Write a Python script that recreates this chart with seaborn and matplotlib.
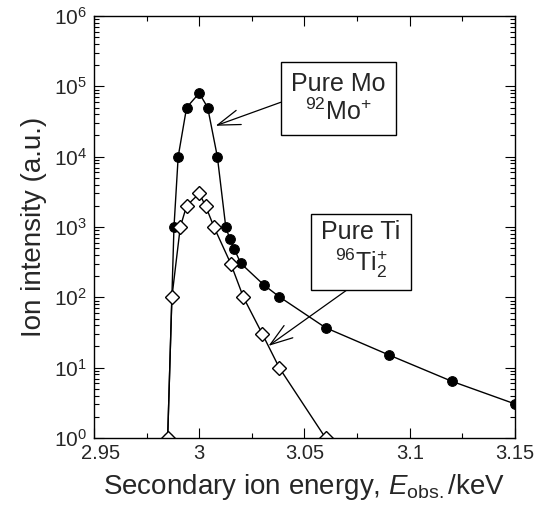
import numpy as np
import pandas as pd
import matplotlib
matplotlib.use("Agg")
import matplotlib.pyplot as plt
import matplotlib.transforms as mtransforms
import seaborn as sns
from matplotlib.ticker import MultipleLocator, LogLocator

# Data
mo_energy = [2.985, 2.988, 2.990, 2.994, 3.000, 3.004, 3.0086, 3.0126, 3.0145,
             3.0166, 3.0197, 3.0307, 3.038, 3.060, 3.090, 3.120, 3.150]
mo_intensity = [1, 1000, 10000, 50000, 80000, 50000, 10000, 1000, 680,
                490, 305, 150, 102, 37, 15.2, 6.4, 3.05]

ti_energy = [2.985, 2.987, 2.991, 2.994, 3.000, 3.003, 3.007, 3.015, 3.021,
             3.030, 3.038, 3.060]
ti_intensity = [1, 100, 1000, 2000, 3000, 2000, 1000, 300, 100, 30, 10, 1]

df_mo = pd.DataFrame({"energy": mo_energy, "intensity": mo_intensity})
df_ti = pd.DataFrame({"energy": ti_energy, "intensity": ti_intensity})

sns.set_style("ticks")
plt.rcParams["font.family"] = ["Liberation Sans", "DejaVu Sans"]
plt.rcParams["mathtext.fontset"] = "custom"
plt.rcParams["mathtext.rm"] = "Liberation Sans"
plt.rcParams["mathtext.it"] = "Liberation Sans:italic"
plt.rcParams["mathtext.default"] = "regular"

fig = plt.figure(figsize=(5.42, 5.08), dpi=100)
ax = fig.add_axes([0.1734, 0.1378, 0.7768, 0.8307])

sns.lineplot(data=df_mo, x="energy", y="intensity", sort=False, ax=ax,
             color="black", linewidth=1, marker="o", markersize=7,
             markerfacecolor="black", markeredgecolor="black")
sns.lineplot(data=df_ti, x="energy", y="intensity", sort=False, ax=ax,
             color="black", linewidth=1, marker="D", markersize=7,
             markerfacecolor="white", markeredgecolor="black", markeredgewidth=1)

ax.set_yscale("log")
ax.set_xlim(2.95, 3.15)
ax.set_ylim(1, 1e6)
ax.xaxis.set_minor_locator(MultipleLocator(0.025))
ax.yaxis.set_major_locator(LogLocator(base=10, numticks=10))
ax.yaxis.set_minor_locator(LogLocator(base=10, subs=np.arange(2, 10), numticks=20))
ax.set_xticks([2.95, 3.0, 3.05, 3.1, 3.15])
ax.set_xticklabels(["2.95", "3", "3.05", "3.1", "3.15"])

ax.tick_params(which="both", direction="in", top=True, right=True,
               width=0.8, color="black")
ax.tick_params(which="major", length=7)
ax.tick_params(which="minor", length=3.5)
ax.tick_params(axis="x", labelsize=14.5, pad=4)
ax.tick_params(axis="y", labelsize=15, pad=5)
for s in ax.spines.values():
    s.set_linewidth(1)
    s.set_color("black")

# first x label sits a little to the right, clear of the 10^0 label
first = ax.get_xticklabels()[0]
first.set_transform(first.get_transform() +
                    mtransforms.ScaledTranslation(5 / 72, 0, fig.dpi_scale_trans))

ax.set_xlabel(r"Secondary ion energy, $\mathit{E}_{\mathrm{obs.}}$/keV", fontsize=20, labelpad=7)
ax.set_ylabel("Ion intensity (a.u.)", fontsize=20, labelpad=5)

box = dict(boxstyle="square,pad=0.4", facecolor="white", edgecolor="black", linewidth=1)
arrow = dict(arrowstyle="->,head_length=0.9,head_width=0.3", color="black", linewidth=0.9,
             shrinkA=0, shrinkB=0)

ax.annotate("Pure Mo\n$^{92}$Mo$^{+}$", xy=(3.0078, 27500), xycoords="data",
            xytext=(338.5, 409.5), textcoords="figure pixels",
            ha="center", va="center", fontsize=18, linespacing=1.15, bbox=box,
            arrowprops=dict(arrow, relpos=(0.0, 0.5)))
ax.annotate("Pure Ti\n$^{96}$Ti$_{2}^{+}$", xy=(3.0329, 20.4), xycoords="data",
            xytext=(361, 258), textcoords="figure pixels",
            ha="center", va="center", fontsize=18, linespacing=1.1, bbox=box,
            arrowprops=dict(arrow, relpos=(0.5, 0.0)))

fig.savefig("out.png", dpi=100)
